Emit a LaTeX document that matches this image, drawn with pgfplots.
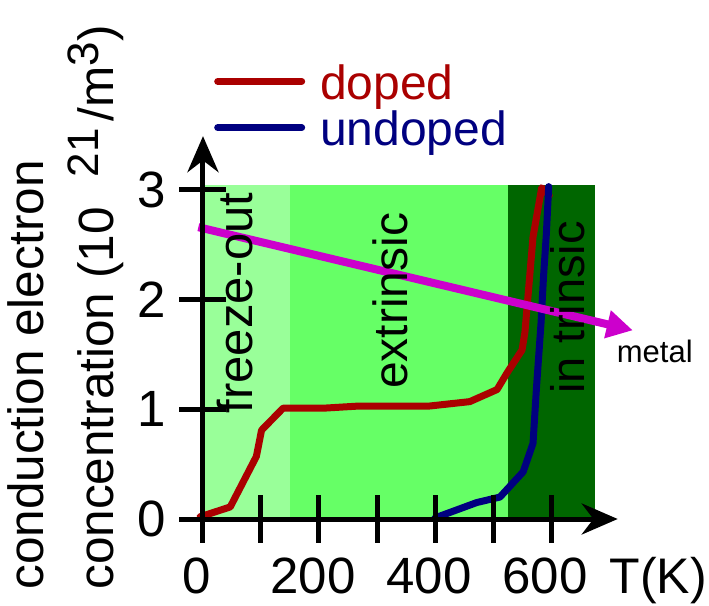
\documentclass[border=0pt]{standalone}
\usepackage{fontspec}
\setmainfont{Liberation Sans}
\usepackage{pgfplots}
\pgfplotsset{compat=1.18}
\usetikzlibrary{arrows.meta}
\definecolor{lgreen}{HTML}{99FF99}
\definecolor{mgreen}{HTML}{66FF66}
\definecolor{dgreen}{HTML}{006600}
\definecolor{dred}{HTML}{AA0000}
\definecolor{dblue}{HTML}{000080}
\definecolor{mag}{HTML}{CC00CC}
\begin{document}
\begin{tikzpicture}
\path[use as bounding box] (-203pt,-86pt) rectangle (506pt,519pt);
\begin{axis}[
  at={(0pt,0pt)}, anchor=origin,
  x=0.58pt, y=109.7pt,
  xmin=0, xmax=715, ymin=0, ymax=3.49,
  axis lines=left,
  axis on top,
  clip=false,
  axis line style={line width=5pt, -{Stealth[length=36pt,width=31pt]}},
  xtick={0,200,400,600},
  minor xtick={100,300,500},
  ytick={0,1,2,3},
  hide obscured x ticks=false, hide obscured y ticks=false,
  tick align=center,
  major tick length=47pt, minor tick length=47pt,
  tick style={black, line width=5pt},
  /pgf/number format/assume math mode=true,
  tick label style={font=\fontsize{51}{51}\selectfont},
  xticklabel style={anchor=base, yshift=-51pt, xshift=-6pt},
  yticklabel style={anchor=east, xshift=-10pt},
  xlabel={T(K)},
  xlabel style={font=\fontsize{50}{50}\selectfont, at={(axis description cs:0.980,-0.194)}, anchor=base west, inner sep=0pt},
  ylabel={conduction electron\\concentration (10\hspace{30pt}{\fontsize{44}{44}\selectfont\raisebox{15pt}{21}}\hspace{7pt}/m{\fontsize{44}{44}\selectfont\raisebox{15pt}{3}})},
  ylabel style={align=left, font=\fontsize{49.5}{70}\selectfont, at={(axis description cs:-0.191,-0.185)}, anchor=south west, inner sep=0pt},
  legend style={draw=none, fill=none, at={(axis description cs:0.0265,1.08)}, anchor=west, inner sep=0pt, font=\fontsize{48}{48}\selectfont, row sep=10pt, nodes={inner sep=0pt}, /tikz/every odd column/.append style={column sep=15pt}},
  legend cell align=left,
  legend image code/.code={\draw[#1, line cap=round] (3.5pt,1pt) -- (87.5pt,1pt);},
]
% regions
\addplot[draw=none, fill=lgreen, forget plot] coordinates {(0,3.045) (150,3.045)} \closedcycle;
\addplot[draw=none, fill=mgreen, forget plot] coordinates {(150,3.045) (526,3.045)} \closedcycle;
\addplot[draw=none, fill=dgreen, forget plot] coordinates {(526,3.045) (676,3.045)} \closedcycle;
% doped
\addplot[dred, line width=7pt, line cap=round, line join=round] coordinates {
(-5,0.02) (47,0.11) (92,0.57) (101,0.81) (138,1.01) (207,1.01) (270,1.03) (305,1.03)
(391,1.03) (460,1.07) (507,1.18) (524,1.33) (550,1.54) (555,1.70) (569,2.57) (584,3.02) (597,2.95)};
\addlegendentry{\textcolor{dred}{doped}}
% undoped
\addplot[dblue, line width=7pt, line cap=round, line join=round] coordinates {
(400,0.01) (472,0.15) (512,0.20) (552,0.43) (569,0.69) (575,1.20) (579,1.50) (583,1.80) (587,2.20) (592,2.60) (596,3.03)};
\addlegendentry{\textcolor{dblue}{undoped}}
% metal arrow
\addplot[mag, line width=8pt, -{Triangle[length=26pt,width=27pt]}, forget plot] coordinates {(-8,2.66) (741,1.72)};
% labels
\node[rotate=90, anchor=base, inner sep=0pt, font=\fontsize{49}{49}\selectfont] at (axis cs:86,1.97) {freeze-out};
\node[rotate=90, anchor=base, inner sep=0pt, font=\fontsize{48}{48}\selectfont] at (axis cs:353,1.99) {extrinsic};
\node[rotate=90, anchor=base, inner sep=0pt, font=\fontsize{47}{47}\selectfont] at (axis cs:657,1.93) {in trinsic};
\node[anchor=base, inner sep=0pt, font=\fontsize{31}{31}\selectfont] at (axis cs:779,1.43) {metal};
\end{axis}
\end{tikzpicture}
\end{document}
